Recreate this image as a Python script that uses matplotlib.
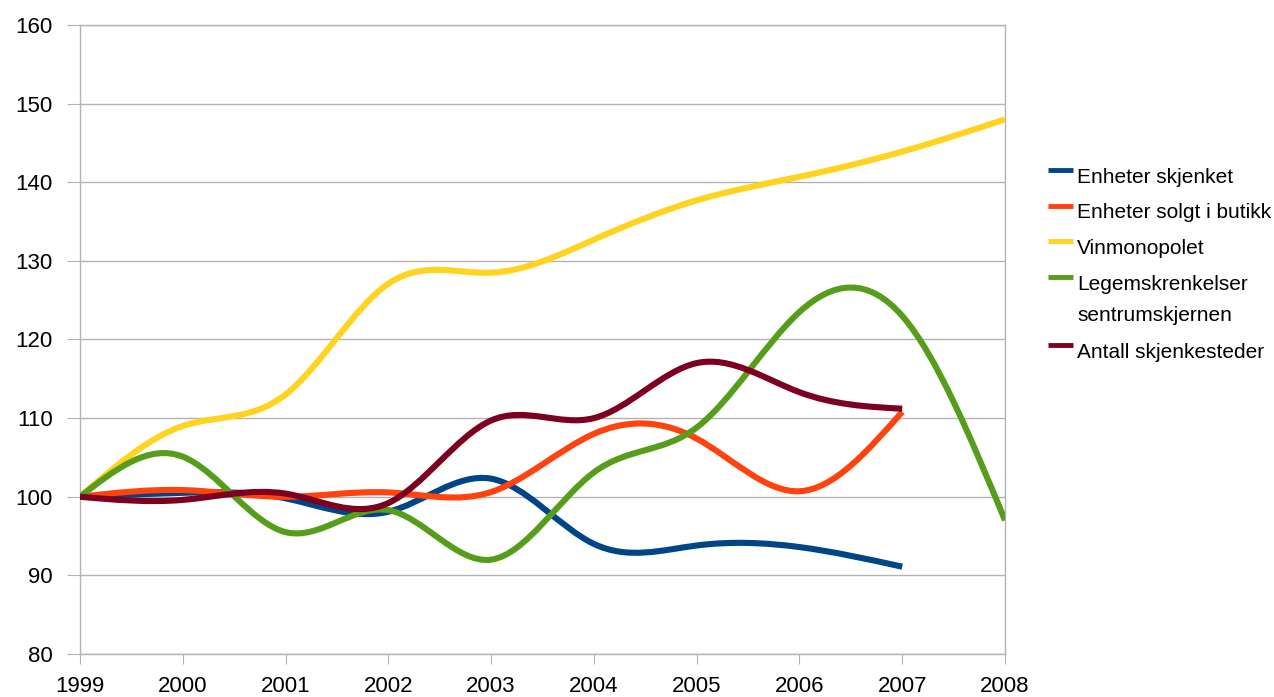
import numpy as np
import matplotlib.pyplot as plt
from matplotlib.path import Path
from matplotlib.patches import PathPatch
from matplotlib.lines import Line2D

plt.rcParams["font.family"] = ["Liberation Sans", "DejaVu Sans"]

years = [1999, 2000, 2001, 2002, 2003, 2004, 2005, 2006, 2007, 2008]

enheter_skjenket = [100, 100.5, 99.8, 98.1, 102.3, 94.0, 93.8, 93.6, 91.1]
enheter_butikk = [100, 100.85, 100.0, 100.55, 100.6, 108.0, 107.4, 100.7, 110.8]
vinmonopolet = [100, 109.0, 113.0, 127.1, 128.5, 132.7, 137.7, 140.7, 143.9, 148.0]
legemskrenkelser = [100, 105.1, 95.5, 98.3, 92.0, 103.1, 108.8, 123.5, 123.0, 97.0]
skjenkesteder = [100, 99.6, 100.4, 99.2, 109.7, 110.0, 117.0, 113.3, 111.2]

series = [
    ("Enheter skjenket", enheter_skjenket, "#004586"),
    ("Enheter solgt i butikk", enheter_butikk, "#ff420e"),
    ("Vinmonopolet", vinmonopolet, "#ffd320"),
    ("Legemskrenkelser\nsentrumskjernen", legemskrenkelser, "#579d1c"),
    ("Antall skjenkesteder", skjenkesteder, "#7e0021"),
]


def spline_path(x, y):
    # natural cubic spline, written as bezier segments
    x = np.asarray(x, float)
    y = np.asarray(y, float)
    n = len(x)
    h = np.diff(x)
    A = np.zeros((n, n))
    b = np.zeros(n)
    A[0, 0] = A[-1, -1] = 1
    for i in range(1, n - 1):
        A[i, i - 1] = h[i - 1]
        A[i, i] = 2 * (h[i - 1] + h[i])
        A[i, i + 1] = h[i]
        b[i] = 6 * ((y[i + 1] - y[i]) / h[i] - (y[i] - y[i - 1]) / h[i - 1])
    M = np.linalg.solve(A, b)
    verts = [(x[0], y[0])]
    codes = [Path.MOVETO]
    for i in range(n - 1):
        s = (y[i + 1] - y[i]) / h[i]
        d0 = s - h[i] * (2 * M[i] + M[i + 1]) / 6
        d1 = s + h[i] * (M[i] + 2 * M[i + 1]) / 6
        verts += [
            (x[i] + h[i] / 3, y[i] + d0 * h[i] / 3),
            (x[i + 1] - h[i] / 3, y[i + 1] - d1 * h[i] / 3),
            (x[i + 1], y[i + 1]),
        ]
        codes += [Path.CURVE4] * 3
    return Path(verts, codes)


fig = plt.figure(figsize=(12.74, 6.97), dpi=100)
ax = fig.add_axes([80 / 1274, 1 - 654 / 697, 925 / 1274, 629 / 697])

for label, vals, color in series:
    p = spline_path(years[: len(vals)], vals)
    ax.add_patch(PathPatch(p, facecolor="none", edgecolor=color, lw=4.4,
                           capstyle="butt", joinstyle="round", zorder=3))

ax.set_xlim(1999, 2008)
ax.set_ylim(80, 160)
ax.set_xticks(years)
ax.set_yticks(range(80, 161, 10))
ax.yaxis.grid(True, color="#b3b3b3", lw=1)
ax.set_axisbelow(True)
for s in ax.spines.values():
    s.set_color("#b3b3b3")
    s.set_linewidth(1)
ax.tick_params(axis="y", length=9.5, color="#b3b3b3", labelsize=16, pad=10)
ax.tick_params(axis="x", length=7, color="#b3b3b3", labelsize=16, pad=9)

# legend drawn by hand so the handle sits on the first line of each label
baselines = [183, 218.5, 254.5, 290, 357.5]
for (label, vals, color), yb in zip(series, baselines):
    yh = 1 - (yb - 13) / 697
    fig.add_artist(Line2D([1048 / 1274, 1073 / 1274], [yh, yh], color=color,
                          lw=3.5, solid_capstyle="butt"))
    fig.text(1077 / 1274, 1 - yb / 697, label.split("\n")[0], fontsize=15,
             va="baseline", ha="left")
    if "\n" in label:
        fig.text(1077 / 1274, 1 - (yb + 31.5) / 697, label.split("\n")[1],
                 fontsize=15, va="baseline", ha="left")

fig.savefig("out.png", dpi=100)
